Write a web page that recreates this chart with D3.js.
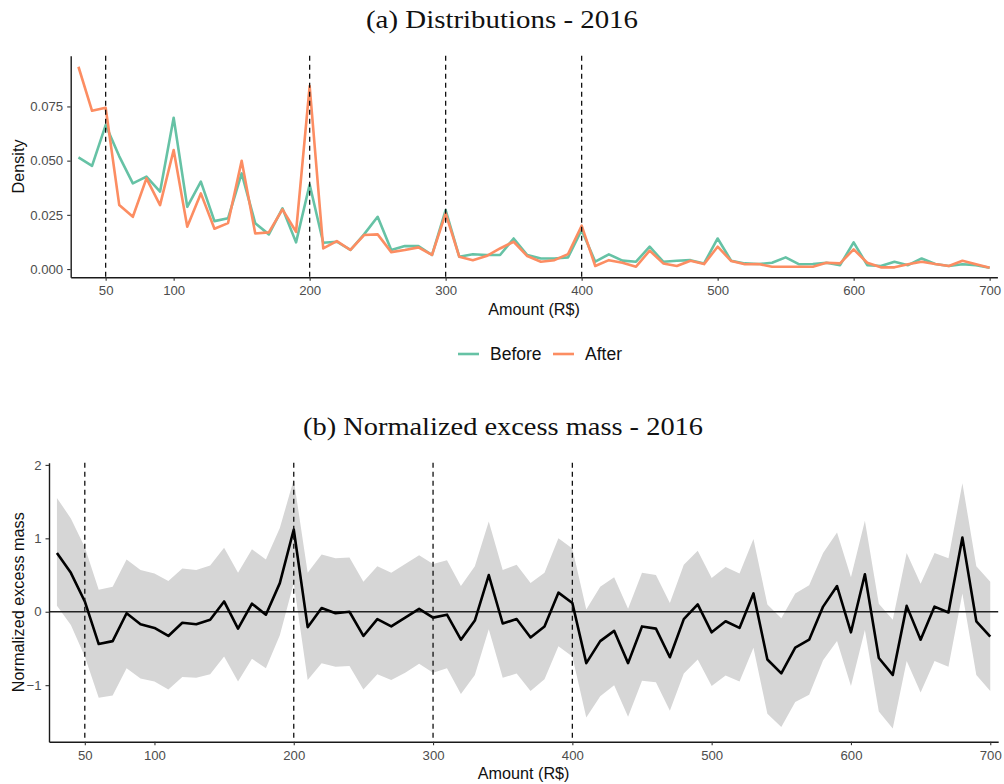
<!DOCTYPE html>
<html>
<head>
<meta charset="utf-8">
<script src="https://cdn.jsdelivr.net/npm/d3@7"></script>
<style>
  html, body { margin: 0; padding: 0; background: #ffffff; }
  svg { display: block; }
  .tick text { font-family: "Liberation Sans", Arial, sans-serif; }
</style>
</head>
<body>
<svg id="chart" width="1004" height="784"></svg>
<script>
// Amount grid (R$), one point every 10
const amounts = [
  30, 40, 50, 60, 70, 80, 90, 100, 110, 120,
  130, 140, 150, 160, 170, 180, 190, 200, 210, 220,
  230, 240, 250, 260, 270, 280, 290, 300, 310, 320,
  330, 340, 350, 360, 370, 380, 390, 400, 410, 420,
  430, 440, 450, 460, 470, 480, 490, 500, 510, 520,
  530, 540, 550, 560, 570, 580, 590, 600, 610, 620,
  630, 640, 650, 660, 670, 680, 690, 700
];

// Panel (a): densities before / after
const densityBefore = [
  0.0515, 0.0476, 0.0664, 0.0520, 0.0395, 0.0426, 0.0357, 0.0698, 0.0287, 0.0403,
  0.0221, 0.0234, 0.0441, 0.0211, 0.0160, 0.0280, 0.0123, 0.0390, 0.0121, 0.0126,
  0.0088, 0.0160, 0.0241, 0.0088, 0.0106, 0.0106, 0.0065, 0.0272, 0.0057, 0.0068,
  0.0065, 0.0065, 0.0141, 0.0065, 0.0049, 0.0049, 0.0054, 0.0180, 0.0034, 0.0068,
  0.0039, 0.0034, 0.0103, 0.0034, 0.0038, 0.0041, 0.0026, 0.0141, 0.0038, 0.0026,
  0.0023, 0.0029, 0.0054, 0.0022, 0.0023, 0.0029, 0.0018, 0.0123, 0.0018, 0.0014,
  0.0034, 0.0018, 0.0049, 0.0023, 0.0014, 0.0022, 0.0018, 0.0006
];
const densityAfter = [
  0.0933, 0.0730, 0.0744, 0.0295, 0.0241, 0.0418, 0.0295, 0.0549, 0.0195, 0.0349,
  0.0186, 0.0212, 0.0499, 0.0164, 0.0169, 0.0275, 0.0172, 0.0844, 0.0095, 0.0129,
  0.0088, 0.0157, 0.0160, 0.0078, 0.0088, 0.0100, 0.0065, 0.0257, 0.0057, 0.0041,
  0.0060, 0.0095, 0.0126, 0.0060, 0.0034, 0.0041, 0.0069, 0.0200, 0.0014, 0.0041,
  0.0029, 0.0011, 0.0085, 0.0026, 0.0014, 0.0038, 0.0023, 0.0103, 0.0037, 0.0022,
  0.0023, 0.0011, 0.0011, 0.0011, 0.0011, 0.0029, 0.0026, 0.0091, 0.0029, 0.0008,
  0.0008, 0.0022, 0.0034, 0.0023, 0.0014, 0.0038, 0.0022, 0.0006
];

// Panel (b): normalized excess mass with confidence band
const excessMass = [
   0.80,  0.53,  0.14, -0.44, -0.40, -0.02, -0.17, -0.22, -0.33, -0.15,
  -0.17, -0.11,  0.14, -0.23,  0.11, -0.04,  0.39,  1.12, -0.21,  0.05,
  -0.02,  0.00, -0.33, -0.10, -0.20, -0.08,  0.04, -0.08, -0.04, -0.38,
  -0.12,  0.50, -0.16, -0.10, -0.35, -0.20,  0.26,  0.12, -0.70, -0.40,
  -0.26, -0.70, -0.20, -0.23, -0.62, -0.10,  0.10, -0.28, -0.13, -0.22,
   0.25, -0.65, -0.84, -0.49, -0.38,  0.07,  0.35, -0.28,  0.51, -0.63,
  -0.86,  0.08, -0.38,  0.07, -0.01,  1.01, -0.13, -0.34
];
const excessUpper = [
  1.55, 1.27, 0.88, 0.30, 0.34, 0.71, 0.57, 0.52, 0.42, 0.59,
  0.57, 0.63, 0.87, 0.53, 0.85, 0.71, 1.14, 1.80, 0.53, 0.78,
  0.73, 0.74, 0.41, 0.62, 0.53, 0.65, 0.77, 0.65, 0.70, 0.35,
  0.62, 1.23, 0.57, 0.64, 0.39, 0.53, 1.00, 0.86, 0.03, 0.34,
  0.47, 0.04, 0.53, 0.50, 0.12, 0.64, 0.83, 0.46, 0.61, 0.52,
  0.99, 0.10, -0.09, 0.25, 0.36, 0.80, 1.08, 0.47, 1.24, 0.11,
  -0.11, 0.80, 0.38, 0.80, 0.73, 1.75, 0.62, 0.41
];
const excessLower = [
   0.08, -0.18, -0.61, -1.17, -1.14, -0.77, -0.91, -0.95, -1.06, -0.89,
  -0.90, -0.85, -0.61, -0.95, -0.64, -0.77, -0.32,  0.39, -0.93, -0.70,
  -0.75, -0.74, -1.06, -0.85, -0.93, -0.83, -0.71, -0.83, -0.77, -1.12,
  -0.86, -0.24, -0.90, -0.84, -1.08, -0.92, -0.47, -0.61, -1.44, -1.15,
  -1.00, -1.43, -0.94, -0.96, -1.35, -0.84, -0.65, -1.01, -0.87, -0.95,
  -0.49, -1.39, -1.57, -1.23, -1.13, -0.66, -0.40, -1.01, -0.25, -1.36,
  -1.59, -0.67, -1.10, -0.67, -0.75,  0.25, -0.86, -1.08
];

// Reference amounts marked with dashed lines
const thresholds = [50, 200, 300, 400];

// Axis ticks and labels
const xTicks = [50, 100, 200, 300, 400, 500, 600, 700];
const densityTicks = [0, 0.025, 0.05, 0.075];
const excessTicks = [-1, 0, 1, 2];
const seriesNames = ["Before", "After"];
const seriesColors = ["#66c2a5", "#fc8d62"];

const svg = d3.select("#chart");
const sansFont = '"Liberation Sans", Arial, Helvetica, sans-serif';
const serifFont = '"Liberation Serif", "Times New Roman", serif';

function styleAxis(g, fontSize) {
  g.select(".domain").attr("stroke", "#1a1a1a").attr("stroke-width", 1.4);
  g.selectAll(".tick line").attr("stroke", "#333333").attr("stroke-width", 1.1);
  g.selectAll(".tick text").attr("fill", "#4d4d4d")
    .style("font-size", fontSize + "px").style("font-family", sansFont);
}

function panelTitle(text, cx, y, width) {
  svg.append("text")
    .attr("x", cx).attr("y", y)
    .attr("text-anchor", "middle")
    .attr("textLength", width)
    .attr("lengthAdjust", "spacingAndGlyphs")
    .style("font-family", serifFont)
    .style("font-size", "25px")
    .attr("fill", "#111")
    .text(text);
}

function axisTitleX(cx, y) {
  svg.append("text")
    .attr("x", cx).attr("y", y)
    .attr("text-anchor", "middle")
    .style("font-family", sansFont).style("font-size", "16.2px")
    .attr("fill", "#111")
    .text("Amount (R$)");
}

function axisTitleY(text, cy) {
  svg.append("text")
    .attr("transform", `translate(24,${cy}) rotate(-90)`)
    .attr("text-anchor", "middle")
    .style("font-family", sansFont).style("font-size", "16.2px")
    .attr("fill", "#111")
    .text(text);
}

// ---------------- Panel (a) ----------------
const xA = d3.scaleLinear().domain([24.3, 705.7]).range([70.7, 997.4]);
const yA = d3.scaleLinear().domain([-0.0038, 0.0984]).range([277.3, 55.7]);

panelTitle("(a) Distributions - 2016", 502, 28, 272);

const gA = svg.append("g");

const lineA = (vals) => d3.line()
  .x((d, i) => xA(amounts[i]))
  .y((d) => yA(d))(vals);

[densityBefore, densityAfter].forEach((vals, k) => {
  gA.append("path")
    .attr("d", lineA(vals))
    .attr("fill", "none")
    .attr("stroke", seriesColors[k])
    .attr("stroke-width", 2.6)
    .attr("stroke-linejoin", "round");
});

gA.selectAll("line.thrA").data(thresholds).enter().append("line")
  .attr("class", "thrA")
  .attr("x1", d => xA(d)).attr("x2", d => xA(d))
  .attr("y1", yA.range()[1]).attr("y2", yA.range()[0])
  .attr("stroke", "#111").attr("stroke-width", 1.3)
  .attr("stroke-dasharray", "5,4");

gA.append("g")
  .attr("transform", `translate(0,${yA.range()[0]})`)
  .call(d3.axisBottom(xA).tickValues(xTicks).tickSize(3.5).tickSizeOuter(0).tickPadding(5).tickFormat(d3.format("d")))
  .call(g => styleAxis(g, 13.2));

gA.append("g")
  .attr("transform", `translate(${xA.range()[0]},0)`)
  .call(d3.axisLeft(yA).tickValues(densityTicks).tickSize(3.5).tickSizeOuter(0).tickPadding(4).tickFormat(d3.format(".3f")))
  .call(g => styleAxis(g, 13.2));

axisTitleX((xA.range()[0] + xA.range()[1]) / 2, 315);
axisTitleY("Density", (yA.range()[0] + yA.range()[1]) / 2);

// Legend
const legend = svg.append("g");
const legendItems = [
  { name: seriesNames[0], color: seriesColors[0], x0: 458 },
  { name: seriesNames[1], color: seriesColors[1], x0: 553 }
];
legendItems.forEach(it => {
  legend.append("line")
    .attr("x1", it.x0).attr("x2", it.x0 + 21)
    .attr("y1", 354).attr("y2", 354)
    .attr("stroke", it.color).attr("stroke-width", 2.6);
  legend.append("text")
    .attr("x", it.x0 + 32).attr("y", 360)
    .style("font-family", sansFont).style("font-size", "17.5px")
    .attr("fill", "#111")
    .text(it.name);
});

// ---------------- Panel (b) ----------------
const xB = d3.scaleLinear().domain([24.3, 705.7]).range([49, 998.2]);
const yB = d3.scaleLinear().domain([-1.77, 2.03]).range([741.7, 462.7]);

panelTitle("(b) Normalized excess mass - 2016", 503, 435, 400);

const gB = svg.append("g");

const band = d3.area()
  .x((d, i) => xB(amounts[i]))
  .y0((d, i) => yB(excessLower[i]))
  .y1((d, i) => yB(excessUpper[i]));

gB.append("path")
  .attr("d", band(amounts))
  .attr("fill", "#d6d6d6");

gB.append("line")
  .attr("x1", xB.range()[0]).attr("x2", xB.range()[1])
  .attr("y1", yB(0)).attr("y2", yB(0))
  .attr("stroke", "#222").attr("stroke-width", 1.3);

gB.append("path")
  .attr("d", d3.line().x((d, i) => xB(amounts[i])).y(d => yB(d))(excessMass))
  .attr("fill", "none")
  .attr("stroke", "#000")
  .attr("stroke-width", 2.6)
  .attr("stroke-linejoin", "round");

gB.selectAll("line.thrB").data(thresholds).enter().append("line")
  .attr("class", "thrB")
  .attr("x1", d => xB(d)).attr("x2", d => xB(d))
  .attr("y1", yB.range()[1]).attr("y2", yB.range()[0])
  .attr("stroke", "#111").attr("stroke-width", 1.3)
  .attr("stroke-dasharray", "5,4");

gB.append("g")
  .attr("transform", `translate(0,${yB.range()[0]})`)
  .call(d3.axisBottom(xB).tickValues(xTicks).tickSize(3.5).tickSizeOuter(0).tickPadding(5).tickFormat(d3.format("d")))
  .call(g => styleAxis(g, 13.2));

gB.append("g")
  .attr("transform", `translate(${xB.range()[0]},0)`)
  .call(d3.axisLeft(yB).tickValues(excessTicks).tickSize(3.5).tickSizeOuter(0).tickPadding(4).tickFormat(d3.format("d")))
  .call(g => styleAxis(g, 13.2));

axisTitleX((xB.range()[0] + xB.range()[1]) / 2, 778.5);
axisTitleY("Normalized excess mass", (yB.range()[0] + yB.range()[1]) / 2);
</script>
</body>
</html>
